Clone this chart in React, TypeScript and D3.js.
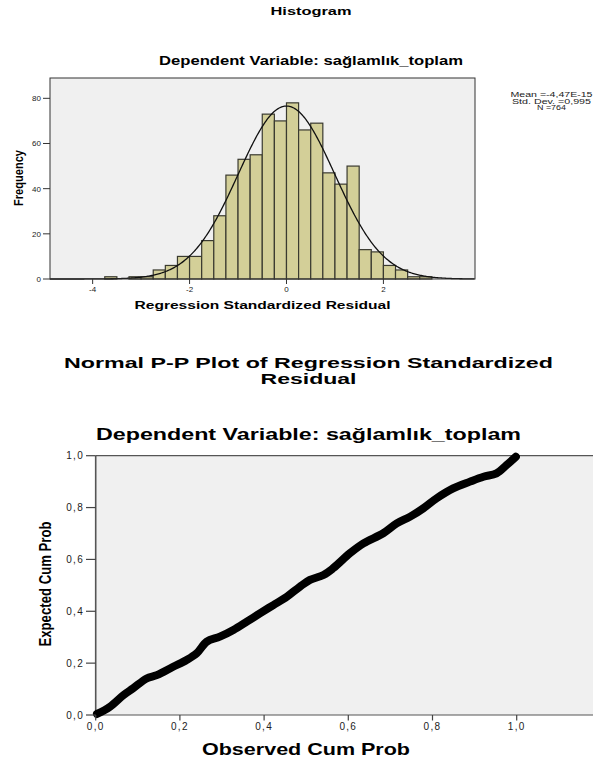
import React from 'react';
import * as d3 from 'd3';

// histogram of regression standardized residuals
const binStarts = [-3.75, -3.5, -3.25, -3.0, -2.75, -2.5, -2.25, -2.0, -1.75, -1.5, -1.25, -1.0, -0.75, -0.5, -0.25, 0, 0.25, 0.5, 0.75, 1.0, 1.25, 1.5, 1.75, 2.0, 2.25, 2.5, 2.75];
const binCounts = [1, 0, 1, 1, 4, 6, 10, 10, 17, 28, 46, 53, 55, 73, 70, 78, 66, 69, 47, 42, 50, 13, 12, 6, 4, 1, 1];
const binWidth = 0.25;
const residMean = -4.47e-15;
const residSd = 0.995;
const residN = 764;
const histXTicks = [-4, -2, 0, 2];
const histYTicks = [0, 20, 40, 60, 80];
const statsLines = ['Mean =-4,47E-15', 'Std. Dev. =0,995', 'N =764'];
const statsWidths = [82, 79, 29];

// normal P-P plot
const observedCum = [0.003, 0.034, 0.066, 0.089, 0.121, 0.145, 0.184, 0.216, 0.24, 0.264, 0.295, 0.327, 0.359, 0.39, 0.422, 0.454, 0.485, 0.509, 0.541, 0.564, 0.604, 0.636, 0.683, 0.715, 0.747, 0.778, 0.81, 0.849, 0.889, 0.921, 0.952, 0.976, 0.998];
const expectedCum = [0.004, 0.032, 0.077, 0.103, 0.141, 0.154, 0.186, 0.212, 0.238, 0.283, 0.302, 0.328, 0.36, 0.392, 0.424, 0.456, 0.495, 0.521, 0.54, 0.566, 0.624, 0.662, 0.701, 0.739, 0.765, 0.797, 0.836, 0.874, 0.9, 0.919, 0.932, 0.964, 0.996];
const ppTicks = [0, 0.2, 0.4, 0.6, 0.8, 1.0];

const font = 'Liberation Sans, Arial, sans-serif';
const narrow = 'Liberation Sans Narrow, Arial Narrow, Liberation Sans, Arial, sans-serif';
const comma = (v: number) => d3.format('.1f')(v).replace('.', ',');

export default function App() {
  // histogram scales
  const hx = d3.scaleLinear().domain([-4.88, 3.89]).range([50, 475]);
  const hy = d3.scaleLinear().domain([0, 89]).range([279, 78]);

  const normal = (x: number) =>
    (residN * binWidth) / (residSd * Math.sqrt(2 * Math.PI)) *
    Math.exp(-0.5 * ((x - residMean) / residSd) ** 2);
  const curveXs = d3.range(-4.88, 3.89, 0.02);
  const curve = d3.line<number>().x((d) => hx(d)).y((d) => hy(normal(d)))(curveXs) || '';

  // P-P scales
  const px = d3.scaleLinear().domain([0, 1.2]).range([95.7, 600.9]);
  const py = d3.scaleLinear().domain([0, 1]).range([715, 455.7]);
  const ppLine = d3.line<number>()
    .x((d) => px(d))
    .y((_, i) => py(expectedCum[i]))
    .curve(d3.curveCatmullRom)(observedCum) || '';

  return (
    <svg width={593} height={760} style={{ position: 'absolute', left: 0, top: 0, background: '#fff' }}>
      {/* ---- histogram ---- */}
      <text x={311} y={15} textAnchor="middle" fontFamily={font} fontWeight="bold" fontSize={11} textLength={81} lengthAdjust="spacingAndGlyphs">Histogram</text>
      <text x={311} y={65} textAnchor="middle" fontFamily={font} fontWeight="bold" fontSize={12} textLength={304} lengthAdjust="spacingAndGlyphs">Dependent Variable: sağlamlık_toplam</text>

      <rect x={50} y={78} width={425} height={201} fill="#f0f0f0" />
      {binStarts.map((b, i) =>
        binCounts[i] > 0 ? (
          <rect key={i} x={hx(b)} y={hy(binCounts[i])} width={hx(b + binWidth) - hx(b)} height={hy(0) - hy(binCounts[i])}
            fill="#d3cf98" stroke="#3a3a30" strokeWidth={1.2} />
        ) : null
      )}
      <path d={curve} fill="none" stroke="#111" strokeWidth={1.3} />
      <rect x={50} y={78} width={425} height={201} fill="none" stroke="#333" strokeWidth={1} />

      {histYTicks.map((t) => (
        <g key={t}>
          <line x1={43} x2={50} y1={hy(t)} y2={hy(t)} stroke="#333" />
          <text x={41} y={hy(t) + 3} textAnchor="end" fontFamily={font} fontSize={8} fill="#222">{t}</text>
        </g>
      ))}
      {histXTicks.map((t) => (
        <g key={t}>
          <line x1={hx(t)} x2={hx(t)} y1={279} y2={284} stroke="#333" />
          <text x={hx(t)} y={292} textAnchor="middle" fontFamily={font} fontSize={8} fill="#222">{t}</text>
        </g>
      ))}
      <text x={262.5} y={309} textAnchor="middle" fontFamily={font} fontWeight="bold" fontSize={11} textLength={256} lengthAdjust="spacingAndGlyphs">Regression Standardized Residual</text>
      <text transform="translate(23,178) rotate(-90)" textAnchor="middle" fontFamily={narrow} fontWeight="bold" fontSize={12} textLength={56} lengthAdjust="spacingAndGlyphs">Frequency</text>

      {statsLines.map((s, i) => (
        <text key={s} x={551.5} y={97 + i * 6.6} textAnchor="middle" fontFamily={font} fontSize={6.8} fill="#222"
          textLength={statsWidths[i]} lengthAdjust="spacingAndGlyphs">{s}</text>
      ))}

      {/* ---- normal P-P plot ---- */}
      <text x={308.5} y={368} textAnchor="middle" fontFamily={font} fontWeight="bold" fontSize={15.5} textLength={489} lengthAdjust="spacingAndGlyphs">Normal P-P Plot of Regression Standardized</text>
      <text x={308.5} y={384} textAnchor="middle" fontFamily={font} fontWeight="bold" fontSize={15.5} textLength={96} lengthAdjust="spacingAndGlyphs">Residual</text>
      <text x={308.5} y={440} textAnchor="middle" fontFamily={font} fontWeight="bold" fontSize={16} textLength={425} lengthAdjust="spacingAndGlyphs">Dependent Variable: sağlamlık_toplam</text>

      <rect x={95.7} y={455.7} width={505} height={259.3} fill="#f0f0f0" />
      <line x1={95.7} x2={600.9} y1={455.7} y2={455.7} stroke="#555" strokeWidth={1.2} />
      <line x1={95.7} x2={600.9} y1={715} y2={715} stroke="#555" strokeWidth={1.2} />
      <line x1={95.7} x2={95.7} y1={455.7} y2={715} stroke="#555" strokeWidth={1.6} />
      <path d={ppLine} fill="none" stroke="#000" strokeWidth={8} strokeLinecap="round" strokeLinejoin="round" />

      {ppTicks.map((t) => (
        <g key={'y' + t}>
          <line x1={86} x2={95.7} y1={py(t)} y2={py(t)} stroke="#444" strokeWidth={1.2} />
          <text x={84} y={py(t) + 3.5} textAnchor="end" fontFamily={font} fontSize={10} letterSpacing={1.3} fill="#222">{comma(t)}</text>
        </g>
      ))}
      {ppTicks.map((t) => (
        <g key={'x' + t}>
          <line x1={px(t)} x2={px(t)} y1={715} y2={720.5} stroke="#444" strokeWidth={1.2} />
          <text x={px(t)} y={730} textAnchor="middle" fontFamily={font} fontSize={10} letterSpacing={1.3} fill="#222">{comma(t)}</text>
        </g>
      ))}
      <text x={306} y={755} textAnchor="middle" fontFamily={font} fontWeight="bold" fontSize={17} textLength={208} lengthAdjust="spacingAndGlyphs">Observed Cum Prob</text>
      <text transform="translate(51,584) rotate(-90)" textAnchor="middle" fontFamily={narrow} fontWeight="bold" fontSize={17} textLength={125} lengthAdjust="spacingAndGlyphs">Expected Cum Prob</text>
    </svg>
  );
}
